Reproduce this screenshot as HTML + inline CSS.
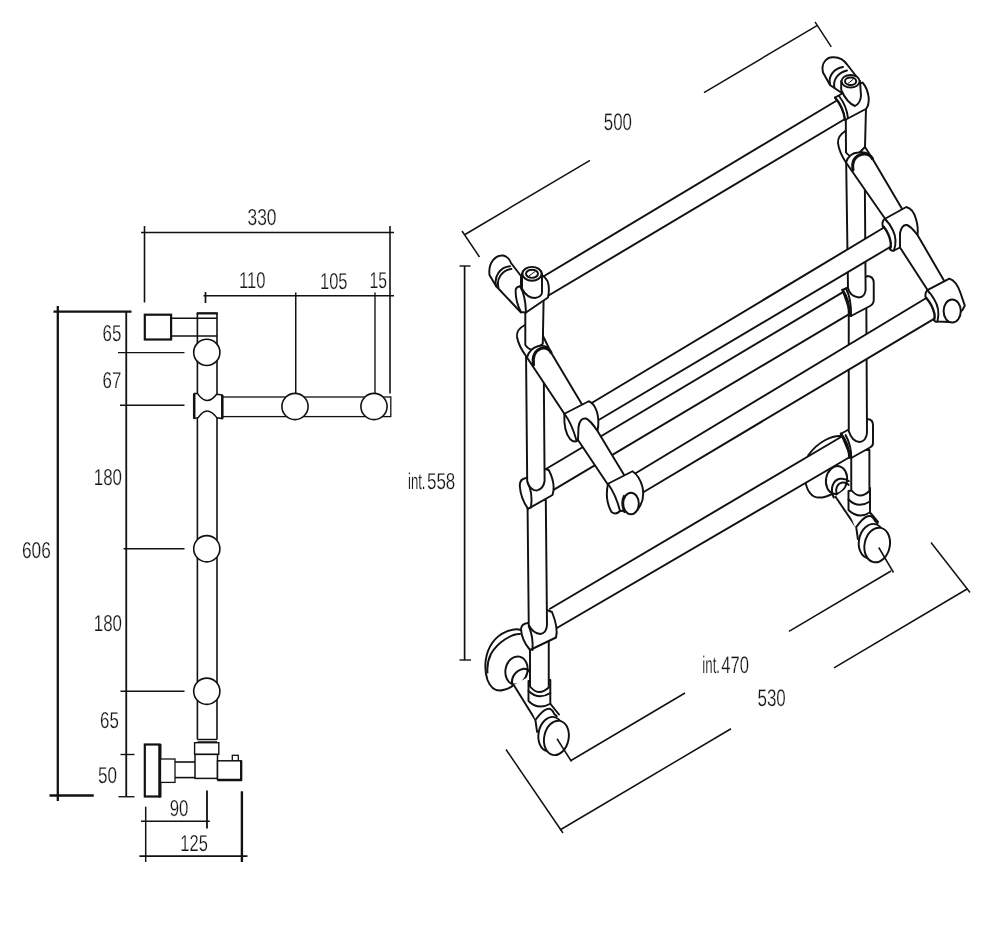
<!DOCTYPE html>
<html><head><meta charset="utf-8"><title>Towel rail drawing</title>
<style>
html,body{margin:0;padding:0;background:#fff;}
svg{display:block;text-rendering:geometricPrecision;-webkit-font-smoothing:antialiased;font-family:"Liberation Sans",sans-serif;}
</style></head><body>
<svg width="1000" height="925" viewBox="0 0 1000 925">
<rect width="1000" height="925" fill="#fff"/>
<defs><filter id="nf" x="0" y="0" width="1000" height="925" filterUnits="userSpaceOnUse"><feOffset dx="0" dy="0"/></filter></defs>
<g filter="url(#nf)">
<line x1="141" y1="232.5" x2="394" y2="232.5" stroke="#111" stroke-width="1.37" stroke-linecap="butt"/>
<line x1="144.5" y1="226" x2="144.5" y2="302.5" stroke="#111" stroke-width="1.6" stroke-linecap="butt"/>
<line x1="390" y1="226" x2="390" y2="393.5" stroke="#111" stroke-width="1.6" stroke-linecap="butt"/>
<line x1="203.5" y1="295.75" x2="394" y2="295.75" stroke="#111" stroke-width="1.71" stroke-linecap="butt"/>
<line x1="205.5" y1="292" x2="205.5" y2="303" stroke="#111" stroke-width="1.71" stroke-linecap="butt"/>
<line x1="295.75" y1="292.5" x2="295.75" y2="394" stroke="#111" stroke-width="1.48" stroke-linecap="butt"/>
<line x1="375" y1="292.5" x2="375" y2="394" stroke="#111" stroke-width="1.37" stroke-linecap="butt"/>
<line x1="53.5" y1="311.7" x2="131.5" y2="311.7" stroke="#111" stroke-width="2.28" stroke-linecap="butt"/>
<line x1="57.8" y1="306" x2="57.8" y2="801" stroke="#111" stroke-width="2.28" stroke-linecap="butt"/>
<line x1="49.5" y1="795.5" x2="93.75" y2="795.5" stroke="#111" stroke-width="2.28" stroke-linecap="butt"/>
<line x1="126.25" y1="311.7" x2="126.25" y2="797" stroke="#111" stroke-width="1.82" stroke-linecap="butt"/>
<line x1="118" y1="352.6" x2="184.5" y2="352.6" stroke="#111" stroke-width="1.37" stroke-linecap="butt"/>
<line x1="120" y1="405.2" x2="184.5" y2="405.2" stroke="#111" stroke-width="1.37" stroke-linecap="butt"/>
<line x1="123.5" y1="548.75" x2="184.5" y2="548.75" stroke="#111" stroke-width="1.37" stroke-linecap="butt"/>
<line x1="120.5" y1="691.25" x2="184.5" y2="691.25" stroke="#111" stroke-width="1.37" stroke-linecap="butt"/>
<line x1="120.5" y1="754.5" x2="134.5" y2="754.5" stroke="#111" stroke-width="1.37" stroke-linecap="butt"/>
<line x1="118.5" y1="796.75" x2="134.5" y2="796.75" stroke="#111" stroke-width="1.37" stroke-linecap="butt"/>
<rect x="144.8" y="314.7" width="26.3" height="24.8" fill="#fff" stroke="#111" stroke-width="2.2"/>
<line x1="172" y1="318.3" x2="217" y2="318.3" stroke="#111" stroke-width="1.48" stroke-linecap="butt"/>
<line x1="172" y1="336" x2="217" y2="336" stroke="#111" stroke-width="1.48" stroke-linecap="butt"/>
<line x1="197.4" y1="313" x2="197.4" y2="739.5" stroke="#111" stroke-width="1.6" stroke-linecap="butt"/>
<line x1="217" y1="313" x2="217" y2="739.5" stroke="#111" stroke-width="1.6" stroke-linecap="butt"/>
<line x1="196.7" y1="313.3" x2="217.7" y2="313.3" stroke="#111" stroke-width="2.28" stroke-linecap="butt"/>
<circle cx="206.8" cy="352.4" r="13.1" fill="#fff" stroke="#111" stroke-width="1.6"/>
<circle cx="206.8" cy="548.75" r="13.1" fill="#fff" stroke="#111" stroke-width="1.6"/>
<circle cx="206.8" cy="691.25" r="13.1" fill="#fff" stroke="#111" stroke-width="1.6"/>
<rect x="222.3" y="397" width="168.5" height="19.6" fill="#fff" stroke="#111" stroke-width="1.3"/>
<circle cx="295" cy="406.5" r="13.1" fill="#fff" stroke="#111" stroke-width="1.6"/>
<circle cx="374" cy="406.5" r="13.1" fill="#fff" stroke="#111" stroke-width="1.6"/>
<path d="M194.2,393.6 L197.6,393.6 Q206.8,407 216.6,394.2 L222.3,395 L222.3,418.8 L216.6,417.4 Q206.8,404.5 198.4,417.4 L194.2,418.6 Z" fill="#fff" stroke="#111" stroke-width="1.5" stroke-linejoin="round" stroke-linecap="round" />
<line x1="194.2" y1="393.6" x2="194.2" y2="418.6" stroke="#111" stroke-width="2.51" stroke-linecap="butt"/>
<line x1="222.3" y1="395" x2="222.3" y2="418.8" stroke="#111" stroke-width="2.51" stroke-linecap="butt"/>
<line x1="197.4" y1="742" x2="217" y2="742" stroke="#111" stroke-width="1.48" stroke-linecap="butt"/>
<line x1="197.4" y1="739.5" x2="217" y2="739.5" stroke="#111" stroke-width="1.48" stroke-linecap="butt"/>
<rect x="144.8" y="744.5" width="14.8" height="52" fill="#fff" stroke="#111" stroke-width="2.2"/>
<line x1="160" y1="744" x2="160" y2="797.5" stroke="#111" stroke-width="2.96" stroke-linecap="butt"/>
<rect x="160.5" y="759" width="14.5" height="23.4" fill="#fff" stroke="#111" stroke-width="1.3"/>
<line x1="175" y1="762" x2="195" y2="762" stroke="#111" stroke-width="1.6" stroke-linecap="butt"/>
<line x1="175" y1="777.6" x2="195" y2="777.6" stroke="#111" stroke-width="1.6" stroke-linecap="butt"/>
<rect x="194.6" y="742.7" width="24.2" height="11.7" fill="#fff" stroke="#111" stroke-width="1.4"/>
<rect x="195" y="754.4" width="22.5" height="24" fill="#fff" stroke="#111" stroke-width="1.5"/>
<rect x="232.3" y="755.3" width="6" height="5.5" fill="#fff" stroke="#111" stroke-width="1.3"/>
<rect x="217.5" y="760.8" width="23.6" height="19" fill="#fff" stroke="#111" stroke-width="1.5"/>
<line x1="217.5" y1="780" x2="241.8" y2="780" stroke="#111" stroke-width="2.51" stroke-linecap="butt"/>
<line x1="241.2" y1="760.5" x2="241.2" y2="780.8" stroke="#111" stroke-width="2.28" stroke-linecap="butt"/>
<line x1="207" y1="790.5" x2="207" y2="828.6" stroke="#111" stroke-width="1.82" stroke-linecap="butt"/>
<line x1="241.9" y1="791.3" x2="241.9" y2="862" stroke="#111" stroke-width="2.39" stroke-linecap="butt"/>
<line x1="145.7" y1="806.7" x2="145.7" y2="862" stroke="#111" stroke-width="1.48" stroke-linecap="butt"/>
<line x1="141" y1="821.3" x2="209.8" y2="821.3" stroke="#111" stroke-width="1.48" stroke-linecap="butt"/>
<line x1="139.4" y1="856.2" x2="247.5" y2="856.2" stroke="#111" stroke-width="1.82" stroke-linecap="butt"/>
<text x="247.5" y="224.5" font-size="23" textLength="29.0" lengthAdjust="spacingAndGlyphs" fill="#151515" stroke="#fff" stroke-width="0.22">330</text>
<text x="239" y="288.3" font-size="23" textLength="26.5" lengthAdjust="spacingAndGlyphs" fill="#151515" stroke="#fff" stroke-width="0.22">110</text>
<text x="320" y="289.3" font-size="23" textLength="27.5" lengthAdjust="spacingAndGlyphs" fill="#151515" stroke="#fff" stroke-width="0.22">105</text>
<text x="369.5" y="288.3" font-size="23" textLength="17.5" lengthAdjust="spacingAndGlyphs" fill="#151515" stroke="#fff" stroke-width="0.22">15</text>
<text x="102.5" y="340.7" font-size="23" textLength="18.8" lengthAdjust="spacingAndGlyphs" fill="#151515" stroke="#fff" stroke-width="0.22">65</text>
<text x="102.5" y="388" font-size="23" textLength="18.8" lengthAdjust="spacingAndGlyphs" fill="#151515" stroke="#fff" stroke-width="0.22">67</text>
<text x="93.8" y="485.3" font-size="23" textLength="28.2" lengthAdjust="spacingAndGlyphs" fill="#151515" stroke="#fff" stroke-width="0.22">180</text>
<text x="22" y="557.7" font-size="23" textLength="28.8" lengthAdjust="spacingAndGlyphs" fill="#151515" stroke="#fff" stroke-width="0.22">606</text>
<text x="93.8" y="631.3" font-size="23" textLength="28.2" lengthAdjust="spacingAndGlyphs" fill="#151515" stroke="#fff" stroke-width="0.22">180</text>
<text x="100" y="727.5" font-size="23" textLength="18.8" lengthAdjust="spacingAndGlyphs" fill="#151515" stroke="#fff" stroke-width="0.22">65</text>
<text x="98" y="782.5" font-size="23" textLength="19" lengthAdjust="spacingAndGlyphs" fill="#151515" stroke="#fff" stroke-width="0.22">50</text>
<text x="169.7" y="815.8" font-size="23" textLength="18.7" lengthAdjust="spacingAndGlyphs" fill="#151515" stroke="#fff" stroke-width="0.22">90</text>
<text x="180.3" y="850.6" font-size="23" textLength="27.5" lengthAdjust="spacingAndGlyphs" fill="#151515" stroke="#fff" stroke-width="0.22">125</text>
<line x1="465" y1="234.5" x2="590" y2="160.31676136363637" stroke="#111" stroke-width="1.5" stroke-linecap="butt"/>
<line x1="704" y1="92.66164772727271" x2="817" y2="25.599999999999994" stroke="#111" stroke-width="1.5" stroke-linecap="butt"/>
<line x1="462" y1="231" x2="479.5" y2="257" stroke="#111" stroke-width="1.5" stroke-linecap="butt"/>
<line x1="815" y1="21.9" x2="831.25" y2="46.9" stroke="#111" stroke-width="1.5" stroke-linecap="butt"/>
<line x1="464.6" y1="266" x2="464.6" y2="660" stroke="#111" stroke-width="1.7" stroke-linecap="butt"/>
<line x1="459.5" y1="266" x2="470.5" y2="266" stroke="#111" stroke-width="1.4" stroke-linecap="butt"/>
<line x1="459.5" y1="660" x2="471" y2="660" stroke="#111" stroke-width="1.4" stroke-linecap="butt"/>
<line x1="571" y1="760.5" x2="685" y2="692.990625" stroke="#111" stroke-width="1.5" stroke-linecap="butt"/>
<line x1="789" y1="631.403125" x2="891" y2="571.0" stroke="#111" stroke-width="1.5" stroke-linecap="butt"/>
<line x1="560" y1="830.0" x2="731" y2="728.7638036809816" stroke="#111" stroke-width="1.5" stroke-linecap="butt"/>
<line x1="834" y1="667.7852760736196" x2="967.5" y2="588.75" stroke="#111" stroke-width="1.5" stroke-linecap="butt"/>
<line x1="506" y1="749.5" x2="563" y2="833" stroke="#111" stroke-width="1.5" stroke-linecap="butt"/>
<line x1="931" y1="542.5" x2="970" y2="592.5" stroke="#111" stroke-width="1.5" stroke-linecap="butt"/>
<text x="603.75" y="130" font-size="24" textLength="28.25" lengthAdjust="spacingAndGlyphs" fill="#151515" stroke="#fff" stroke-width="0.22">500</text>
<text x="408" y="488.5" font-size="23" textLength="17.5" lengthAdjust="spacingAndGlyphs" fill="#151515" stroke="#fff" stroke-width="0.22">int.</text>
<text x="427" y="488.5" font-size="23" textLength="28.3" lengthAdjust="spacingAndGlyphs" fill="#151515" stroke="#fff" stroke-width="0.22">558</text>
<text x="702.3" y="672.5" font-size="24" textLength="17.7" lengthAdjust="spacingAndGlyphs" fill="#151515" stroke="#fff" stroke-width="0.22">int.</text>
<text x="721.3" y="672.5" font-size="24" textLength="27.7" lengthAdjust="spacingAndGlyphs" fill="#151515" stroke="#fff" stroke-width="0.22">470</text>
<text x="757.5" y="706.2" font-size="24" textLength="28.3" lengthAdjust="spacingAndGlyphs" fill="#151515" stroke="#fff" stroke-width="0.22">530</text>
<path d="M841,436 C832,435.5 818,441.5 808.5,455 C803,468 804,486 810,493 C814,498.5 822,499 832.5,493.8 Z" fill="#fff" stroke="none" stroke-width="0" stroke-linejoin="round" stroke-linecap="round" />
<path d="M841,436 C832,435.5 818,441.5 808.5,455 C803,468 804,486 810,493 C814,498.5 822,499 832.5,493.8" fill="none" stroke="#111" stroke-width="1.95" stroke-linejoin="round" stroke-linecap="round" />
<ellipse cx="836.5" cy="480" rx="10.5" ry="14" fill="#fff" stroke="#111" stroke-width="1.95" transform="rotate(10 836.5 480)"/>
<path d="M833.75,497.5 C829.5,489 833,480 840,478.75 C844,478.3 847,479.5 848.75,481" fill="none" stroke="#111" stroke-width="2" stroke-linejoin="round" stroke-linecap="round" />
<path d="M837.5,496 C834.5,489.5 837,483.5 842.5,482.5 C845.5,482.3 847.5,483.3 848.75,485" fill="none" stroke="#111" stroke-width="1.95" stroke-linejoin="round" stroke-linecap="round" />
<polygon points="836,496 856,530 875,520 852,484" fill="#fff" stroke="none"/>
<line x1="835" y1="496" x2="856.2" y2="527.2" stroke="#111" stroke-width="1.95" stroke-linecap="butt"/>
<path d="M521,630 C514,627.5 500,632 492.5,642.5 C485,653 483.5,668 487.5,680 C491,689 497,691.5 503,690 C507,689 510,688 512.5,686 L 528,660 Z" fill="#fff" stroke="none" stroke-width="0" stroke-linejoin="round" stroke-linecap="round" />
<path d="M521,630 C514,627.5 500,632 492.5,642.5 C485,653 483.5,668 487.5,680 C491,689 497,691.5 503,690 C507,689 510,688 512.5,686" fill="none" stroke="#111" stroke-width="1.95" stroke-linejoin="round" stroke-linecap="round" />
<path d="M520,634 C512,633.5 498,642 491,653.75 C488,660 487,667 487.5,672.5" fill="none" stroke="#111" stroke-width="1.95" stroke-linejoin="round" stroke-linecap="round" />
<ellipse cx="516.5" cy="670.5" rx="11" ry="14.2" fill="#fff" stroke="#111" stroke-width="1.95" transform="rotate(12 516.5 670.5)"/>
<path d="M512.5,685 C510.5,679 514.5,670.5 523.75,668.75 C526.5,668.6 528.5,670 530,672.5" fill="none" stroke="#111" stroke-width="2.2" stroke-linejoin="round" stroke-linecap="round" />
<polygon points="513.75,685 536,721 556,712 530,676" fill="#fff" stroke="none"/>
<line x1="513.75" y1="685" x2="535.5" y2="720" stroke="#111" stroke-width="1.95" stroke-linecap="butt"/>
<polygon points="550,608.75 841,437 849,457.5 556,628.5" fill="#fff" stroke="none"/>
<line x1="550" y1="608.75" x2="841" y2="437" stroke="#111" stroke-width="1.95" stroke-linecap="round"/>
<line x1="556" y1="628.5" x2="849" y2="457.5" stroke="#111" stroke-width="1.95" stroke-linecap="round"/>
<polygon points="546,469 842.5,292.3 848.75,314.3 554.4,489.4" fill="#fff" stroke="none"/>
<line x1="546" y1="469" x2="842.5" y2="292.3" stroke="#111" stroke-width="1.95" stroke-linecap="round"/>
<line x1="554.4" y1="489.4" x2="848.75" y2="314.3" stroke="#111" stroke-width="1.95" stroke-linecap="round"/>
<polygon points="543.75,276.25 836,101 845,119 549.4,295" fill="#fff" stroke="none"/>
<line x1="543.75" y1="276.25" x2="836" y2="101" stroke="#111" stroke-width="1.95" stroke-linecap="round"/>
<line x1="549.4" y1="295" x2="845" y2="119" stroke="#111" stroke-width="1.95" stroke-linecap="round"/>
<polygon points="856,530 848.5,510 870,512.5 882,524 866,548" fill="#fff" stroke="none"/>
<path d="M870,512.5 L878,522" fill="none" stroke="#111" stroke-width="1.95" stroke-linejoin="round" stroke-linecap="round" />
<path d="M848.5,491 L848.5,510 Q858,519.5 870,512.5 L870,488 Z" fill="#fff" stroke="#111" stroke-width="1.95" stroke-linejoin="round" stroke-linecap="round" />
<path d="M848.5,499.5 Q858,509 870,501.5" fill="none" stroke="#111" stroke-width="1.95" stroke-linejoin="round" stroke-linecap="round" />
<path d="M851.25,450 L851.25,490 Q859.5,500.5 869.4,491 L869.4,450 Z" fill="#fff" stroke="#111" stroke-width="1.95" stroke-linejoin="round" stroke-linecap="round" />
<path d="M841,433.75 L846,431 L867.5,419 Q873,419.5 873,425 L873,443 Q873,446 870,447.5 L851.25,458 Q846.5,447 841,433.75 Z" fill="#fff" stroke="#111" stroke-width="1.95" stroke-linejoin="round" stroke-linecap="round" />
<path d="M845.6,435 Q851.5,446 851.25,458" fill="none" stroke="#111" stroke-width="1.95" stroke-linejoin="round" stroke-linecap="round" />
<path d="M841,433.75 Q849,444 849.5,457.5" fill="none" stroke="#111" stroke-width="2.6" stroke-linejoin="round" stroke-linecap="round" />
<path d="M848.75,300 L848.75,431 Q852,441.5 859.5,442 Q866,441.5 867,433 L866.3,300 Z" fill="#fff" stroke="#111" stroke-width="1.95" stroke-linejoin="round" stroke-linecap="round" />
<path d="M842.5,290 L848,287.5 L867.5,276 Q873.75,276.5 873.75,283 L873.75,300 Q873.75,304 870,306 L851,316 Q847,302 842.5,290 Z" fill="#fff" stroke="#111" stroke-width="1.95" stroke-linejoin="round" stroke-linecap="round" />
<path d="M842.5,290 Q849.5,300 849.5,315.5" fill="none" stroke="#111" stroke-width="2.6" stroke-linejoin="round" stroke-linecap="round" />
<path d="M846,288.5 Q851.5,299 851,316" fill="none" stroke="#111" stroke-width="1.95" stroke-linejoin="round" stroke-linecap="round" />
<path d="M846,150 L848,288 Q850,296.5 858.75,297.5 Q865,297 865.6,290 L864.6,150 Z" fill="#fff" stroke="#111" stroke-width="1.95" stroke-linejoin="round" stroke-linecap="round" />
<path d="M845.3,131 Q837.5,136 838,143 Q839,152 846,162.5 L872.5,158.75 L865,147 L865,131 Z" fill="#fff" stroke="#111" stroke-width="1.95" stroke-linejoin="round" stroke-linecap="round" />
<path d="M845.7,100 L846,152.5 Q851,158.5 856,156 L865,147 L866.2,100 Z" fill="#fff" stroke="#111" stroke-width="1.95" stroke-linejoin="round" stroke-linecap="round" />
<polygon points="536,721 528.5,701 550.3,703.75 562,716 546,738" fill="#fff" stroke="none"/>
<path d="M550.3,703.75 L559,714.5" fill="none" stroke="#111" stroke-width="1.95" stroke-linejoin="round" stroke-linecap="round" />
<path d="M528.5,681 L528.5,701 Q538,710.5 550.3,703.75 L550.3,680 Z" fill="#fff" stroke="#111" stroke-width="1.95" stroke-linejoin="round" stroke-linecap="round" />
<path d="M528.5,691 Q538.5,700.5 550.3,693" fill="none" stroke="#111" stroke-width="1.95" stroke-linejoin="round" stroke-linecap="round" />
<path d="M530,640 L530,686.5 Q538.5,697 548.75,687.5 L548.75,640 Z" fill="#fff" stroke="#111" stroke-width="1.95" stroke-linejoin="round" stroke-linecap="round" />
<path d="M528,623 Q521.5,623.5 521,629 Q521.5,640 530,650 L556,637.5 Q558.5,628 552,612 L547,610 Z" fill="#fff" stroke="#111" stroke-width="1.95" stroke-linejoin="round" stroke-linecap="round" />
<path d="M528.75,626 Q533.5,637 532.5,650" fill="none" stroke="#111" stroke-width="1.95" stroke-linejoin="round" stroke-linecap="round" />
<path d="M527.5,500 L528.75,625 Q533,633.5 540.5,634 Q546.5,633 547,625 L545.8,500 Z" fill="#fff" stroke="#111" stroke-width="1.95" stroke-linejoin="round" stroke-linecap="round" />
<path d="M526,478 Q519.5,479 519.8,486 Q520.5,498 528,508.8 L552.5,495 Q556,484 548.75,470 L545,469 Z" fill="#fff" stroke="#111" stroke-width="1.95" stroke-linejoin="round" stroke-linecap="round" />
<path d="M527.5,482.5 Q533,492 531,507.5" fill="none" stroke="#111" stroke-width="1.95" stroke-linejoin="round" stroke-linecap="round" />
<path d="M526,350 L527.2,481 Q530,490.5 536.5,490.6 Q543.5,489 544.6,481 L543.6,350 Z" fill="#fff" stroke="#111" stroke-width="1.95" stroke-linejoin="round" stroke-linecap="round" />
<path d="M525,325 Q516,329.5 517,337 Q518.5,346 527,357.5 L551,352.5 L543,336 L543,325 Z" fill="#fff" stroke="#111" stroke-width="1.95" stroke-linejoin="round" stroke-linecap="round" />
<path d="M525.3,300 L525.3,345 Q530,351.5 535,349 L542.8,343.75 L543.6,300 Z" fill="#fff" stroke="#111" stroke-width="1.95" stroke-linejoin="round" stroke-linecap="round" />
<path d="M535.4,720.0 Q548.8,701.4 554.1,713.6999999999999 L556.4,717.9 L551.4,737.9 L537.1,731.9 Z" fill="#fff" stroke="none" stroke-width="0" stroke-linejoin="round" stroke-linecap="round" />
<path d="M537.1,731.9 L535.4,720.0 Q548.8,701.4 554.1,713.6999999999999 L556.6999999999999,716.3" fill="none" stroke="#111" stroke-width="1.95" stroke-linejoin="round" stroke-linecap="round" />
<ellipse cx="550.8" cy="734.1" rx="12.2" ry="17.4" fill="#fff" stroke="#111" stroke-width="1.95" transform="rotate(12 550.8 734.1)"/>
<ellipse cx="556.4" cy="737.9" rx="12.2" ry="17.4" fill="#fff" stroke="#111" stroke-width="1.95" transform="rotate(12 556.4 737.9)"/>
<line x1="557" y1="738.75" x2="571.5" y2="761.5" stroke="#111" stroke-width="1.5" stroke-linecap="butt"/>
<path d="M856.2,527.1 Q869.6,508.5 874.9000000000001,520.8 L877.2,525.0 L872.2,545.0 L857.9000000000001,539.0 Z" fill="#fff" stroke="none" stroke-width="0" stroke-linejoin="round" stroke-linecap="round" />
<path d="M857.9000000000001,539.0 L856.2,527.1 Q869.6,508.5 874.9000000000001,520.8 L877.5,523.4" fill="none" stroke="#111" stroke-width="1.95" stroke-linejoin="round" stroke-linecap="round" />
<ellipse cx="871.6" cy="541.2" rx="12.6" ry="17.5" fill="#fff" stroke="#111" stroke-width="1.95" transform="rotate(12 871.6 541.2)"/>
<ellipse cx="877.2" cy="545.0" rx="12.6" ry="17.5" fill="#fff" stroke="#111" stroke-width="1.95" transform="rotate(12 877.2 545.0)"/>
<line x1="878.75" y1="547.5" x2="893.5" y2="572.5" stroke="#111" stroke-width="1.5" stroke-linecap="butt"/>
<path d="M887,221.5 L846,162.5 Q849,153 858.5,152.5 Q868,150.5 872.5,158.75 L903,210.5 Z" fill="#fff" stroke="#111" stroke-width="1.95" stroke-linejoin="round" stroke-linecap="round" />
<path d="M853,170 Q851,157 862,154.2 Q869.5,153 872.5,158.75" fill="none" stroke="#111" stroke-width="3" stroke-linejoin="round" stroke-linecap="round" />
<polygon points="592.5,402.5 884,227.5 891,246.5 599.5,419.5" fill="#fff" stroke="none"/>
<line x1="592.5" y1="402.5" x2="884" y2="227.5" stroke="#111" stroke-width="1.95" stroke-linecap="round"/>
<line x1="599.5" y1="419.5" x2="891" y2="246.5" stroke="#111" stroke-width="1.95" stroke-linecap="round"/>
<polygon points="636,473 926.3,298 934,318.8 643.75,492" fill="#fff" stroke="none"/>
<line x1="636" y1="473" x2="926.3" y2="298" stroke="#111" stroke-width="1.95" stroke-linecap="round"/>
<line x1="643.75" y1="492" x2="934" y2="318.8" stroke="#111" stroke-width="1.95" stroke-linecap="round"/>
<path d="M885,218.75 L906.25,207 Q913,208.5 916,219 Q918.5,228 917.5,235 L900,247.5 L894,250.5 Q897.5,240 893,230.5 Q890,224 885,218.75 Z" fill="#fff" stroke="#111" stroke-width="1.95" stroke-linejoin="round" stroke-linecap="round" />
<path d="M883.5,226.5 Q889.5,234 890.8,243 Q891,247 890,249" fill="none" stroke="#111" stroke-width="2.4" stroke-linejoin="round" stroke-linecap="round" />
<path d="M885,218.75 Q881.5,221 882.8,226.8" fill="none" stroke="#111" stroke-width="1.95" stroke-linejoin="round" stroke-linecap="round" />
<path d="M890,249 Q891.5,251.5 894,250.5" fill="none" stroke="#111" stroke-width="1.95" stroke-linejoin="round" stroke-linecap="round" />
<path d="M929.5,293 L900,247.5 L900,233 Q902,224 907,225 Q911,226.5 917.5,235 L946,284 Z" fill="#fff" stroke="#111" stroke-width="1.95" stroke-linejoin="round" stroke-linecap="round" />
<path d="M927.4,290.2 L949.4,278.65 Q956.5,281 960.5,293 L964.8,305.6 L962.6,309.8 L950,322 L937.5,321.5 Q940.5,309 934,299 Q931,294 927.4,290.2 Z" fill="#fff" stroke="#111" stroke-width="1.95" stroke-linejoin="round" stroke-linecap="round" />
<path d="M926.3,298 Q932.5,305 934.5,314 Q935,318 934,320" fill="none" stroke="#111" stroke-width="2.4" stroke-linejoin="round" stroke-linecap="round" />
<path d="M927.4,290.2 Q924.5,293 925.8,298" fill="none" stroke="#111" stroke-width="1.95" stroke-linejoin="round" stroke-linecap="round" />
<path d="M934,320 Q935,322.5 937.5,321.5" fill="none" stroke="#111" stroke-width="1.95" stroke-linejoin="round" stroke-linecap="round" />
<ellipse cx="952.2" cy="311.1" rx="8.6" ry="11.5" fill="#fff" stroke="#111" stroke-width="2" transform="rotate(0 952.2 311.1)"/>
<path d="M566.5,417 L527,357.5 Q529.5,348.5 538.5,346 Q547,344 551,352.5 L583.5,407 Z" fill="#fff" stroke="#111" stroke-width="1.95" stroke-linejoin="round" stroke-linecap="round" />
<path d="M533.5,365 Q531.5,352 541.5,348.2 Q548,346.8 551,352.5" fill="none" stroke="#111" stroke-width="3" stroke-linejoin="round" stroke-linecap="round" />
<path d="M564.4,413.75 L588.75,401.25 Q594,403 597,412 Q599.5,421 597.5,431 L591,422.5 L578,440 Q574.5,443.5 570,439 Q563.5,431 564.4,413.75 Z" fill="#fff" stroke="#111" stroke-width="1.95" stroke-linejoin="round" stroke-linecap="round" />
<path d="M564.4,413.75 Q572,424 576.5,440.5" fill="none" stroke="#111" stroke-width="1.95" stroke-linejoin="round" stroke-linecap="round" />
<path d="M609.5,487 L578,440 L578.5,427 Q580,417.5 586,418.5 Q590,420 597.5,431 L625,476.5 Z" fill="#fff" stroke="#111" stroke-width="1.95" stroke-linejoin="round" stroke-linecap="round" />
<path d="M608,483.75 L632.5,471.25 Q639.5,476 642.5,487 Q644.5,498 640.5,505 L637.5,510 L620,511 Q616,515.5 611.5,512 Q604.5,500 608,483.75 Z" fill="#fff" stroke="#111" stroke-width="1.95" stroke-linejoin="round" stroke-linecap="round" />
<path d="M608,483.75 Q616,495 620,511" fill="none" stroke="#111" stroke-width="1.95" stroke-linejoin="round" stroke-linecap="round" />
<ellipse cx="631" cy="503.5" rx="7.8" ry="10.8" fill="#fff" stroke="#111" stroke-width="1.95" transform="rotate(0 631 503.5)"/>
<path d="M624,496 Q620.5,503 624.5,512" fill="none" stroke="#111" stroke-width="2.2" stroke-linejoin="round" stroke-linecap="round" />
<path d="M489.5,275 C488,262 496,255 503,255.5 C507,256 510,260 511,263 L521,276 L521,312.5 L496,286 Z" fill="#fff" stroke="#111" stroke-width="1.95" stroke-linejoin="round" stroke-linecap="round" />
<path d="M496.25,286.25 C493.5,277 500,267 510,266.25" fill="none" stroke="#111" stroke-width="1.95" stroke-linejoin="round" stroke-linecap="round" />
<path d="M498.5,287.5 C496,279 502,270 511.5,269" fill="none" stroke="#111" stroke-width="1.95" stroke-linejoin="round" stroke-linecap="round" />
<path d="M520,286.25 Q515,287 515.6,292 Q516,303 521,312 L526,312.5 L548,297.5 Q550,288 547.5,281 L543.75,276 Z" fill="#fff" stroke="#111" stroke-width="1.95" stroke-linejoin="round" stroke-linecap="round" />
<path d="M520,286.25 Q525.5,295 526,312.5" fill="none" stroke="#111" stroke-width="1.95" stroke-linejoin="round" stroke-linecap="round" />
<path d="M522,273.5 L522,288.75 Q527,298 535,298 Q541.5,297 542,292.5 L542,273.5 Z" fill="#fff" stroke="#111" stroke-width="1.95" stroke-linejoin="round" stroke-linecap="round" />
<ellipse cx="532" cy="273.75" rx="9.6" ry="6.9" fill="#fff" stroke="#111" stroke-width="1.95" transform="rotate(0 532 273.75)"/>
<ellipse cx="532" cy="273.75" rx="6" ry="4.1" fill="#fff" stroke="#111" stroke-width="1.95" transform="rotate(0 532 273.75)"/>
<line x1="529" y1="276" x2="535" y2="271.5" stroke="#111" stroke-width="1.0" stroke-linecap="butt"/>
<path d="M823,72.5 C820.5,63 827,57 833,57.3 C839,57 844,60 847.5,65 L856,76 L852,100 L830,85 Z" fill="#fff" stroke="#111" stroke-width="1.95" stroke-linejoin="round" stroke-linecap="round" />
<path d="M830,84 C828,76 834,68.5 843,67" fill="none" stroke="#111" stroke-width="2" stroke-linejoin="round" stroke-linecap="round" />
<path d="M834.5,88 C832.5,80 838,72.5 847,70.5" fill="none" stroke="#111" stroke-width="1.95" stroke-linejoin="round" stroke-linecap="round" />
<path d="M835,97.5 L862.5,82.5 Q867.5,88 868.75,98 Q869,105 866.25,108.75 L845,120 Q843,107 835,97.5 Z" fill="#fff" stroke="#111" stroke-width="1.95" stroke-linejoin="round" stroke-linecap="round" />
<path d="M835,97.5 Q843.5,107 845,119.5" fill="none" stroke="#111" stroke-width="2" stroke-linejoin="round" stroke-linecap="round" />
<path d="M839,96 Q846.5,105.5 848,118" fill="none" stroke="#111" stroke-width="1.95" stroke-linejoin="round" stroke-linecap="round" />
<path d="M841.2,81 L841.2,90 Q847,103 855,106 Q860.5,103 861,96 L860,81 Z" fill="#fff" stroke="#111" stroke-width="1.95" stroke-linejoin="round" stroke-linecap="round" />
<ellipse cx="850.6" cy="81.25" rx="9" ry="6.3" fill="#fff" stroke="#111" stroke-width="1.95" transform="rotate(0 850.6 81.25)"/>
<ellipse cx="850.6" cy="81.25" rx="5.6" ry="3.8" fill="#fff" stroke="#111" stroke-width="1.95" transform="rotate(0 850.6 81.25)"/>
<line x1="848" y1="83.5" x2="853.5" y2="79" stroke="#111" stroke-width="1.0" stroke-linecap="butt"/>
</g>
</svg>
</body></html>
